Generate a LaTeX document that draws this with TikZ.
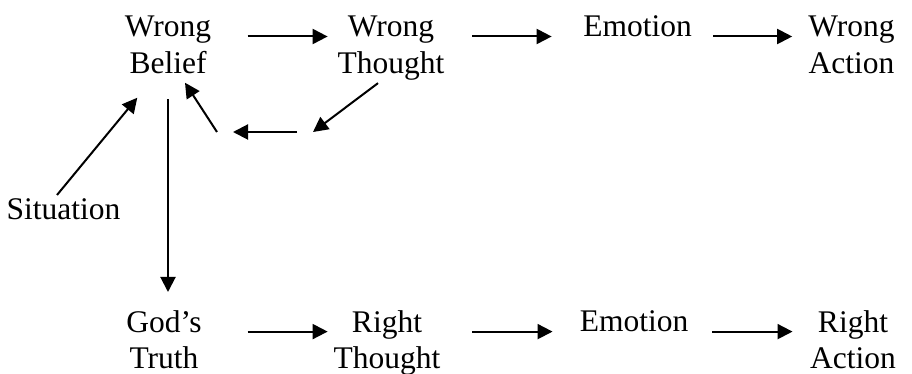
\documentclass[tikz,border=0pt]{standalone}
\usepackage{fontspec}
\setmainfont{Liberation Serif}
\usetikzlibrary{arrows.meta}

\begin{document}
\begin{tikzpicture}[x=0.5pt,y=-0.5pt,
    lbl/.style={align=center, anchor=north, inner sep=0pt, font=\fontsize{15.75}{18.3}\selectfont},
    arr/.style={line width=1pt, -{Triangle[length=7.5pt,width=7.5pt]}}]
    \useasboundingbox (0,0) rectangle (912,374);
    % wrong chain
    \node[lbl] (wb) at (168,15.5) {Wrong\\Belief};
    \node[lbl] (wt) at (391,15.5) {Wrong\\Thought};
    \node[lbl] (em1) at (637.5,15.5) {Emotion};
    \node[lbl] (wa) at (851.5,15.5) {Wrong\\Action};
    % right chain
    \node[lbl] (gt) at (164,310) {God’s\\Truth};
    \node[lbl] (rt) at (387,310) {Right\\Thought};
    \node[lbl] (em2) at (634,310) {Emotion};
    \node[lbl] (ra) at (853,310) {Right\\Action};
    \node[lbl] (sit) at (63.5,198.5) {Situation};
    \coordinate (fbr) at (313,132);
    \coordinate (fbl) at (217,132);

    \draw[arr, shorten <=18.1pt, shorten >=4.8pt] ([yshift=-10.5pt]wb.north east) -- ([yshift=-10.5pt]wt.north west);
    \draw[arr, shorten <=13.8pt, shorten >=15.6pt] ([yshift=-10.5pt]wt.north east) -- ([yshift=-10.5pt]em1.north west);
    \draw[arr, shorten <=10.6pt, shorten >=7.9pt] ([yshift=-10.5pt]em1.north east) -- ([yshift=-10.5pt]wa.north west);
    \draw[arr, shorten <=22.75pt, shorten >=2.8pt] ([yshift=-10.8pt]gt.north east) -- ([yshift=-10.8pt]rt.north west);
    \draw[arr, shorten <=15.8pt, shorten >=13.4pt] ([yshift=-10.8pt]rt.north east) -- ([yshift=-10.8pt]em2.north west);
    \draw[arr, shorten <=11.9pt, shorten >=8.6pt] ([yshift=-10.8pt]em2.north east) -- ([yshift=-10.8pt]ra.north west);

    \draw[arr, shorten <=12.7pt, shorten >=9pt] (wb.south) -- (wb.south |- gt.north);
    \draw[arr] ([xshift=-3.25pt,yshift=1.75pt]sit.north) -- ([xshift=6.4pt,yshift=-11.95pt]wb.south west);

    % loop back to the belief
    \draw[arr] ([xshift=-6.5pt,yshift=-1.4pt]wt.south) -- (fbr);
    \draw[arr, shorten <=8pt, shorten >=8pt] (fbr) -- (fbl);
    \draw[arr] (fbl) -- ([xshift=8.5pt,yshift=-4.45pt]wb.south);
\end{tikzpicture}
\end{document}
